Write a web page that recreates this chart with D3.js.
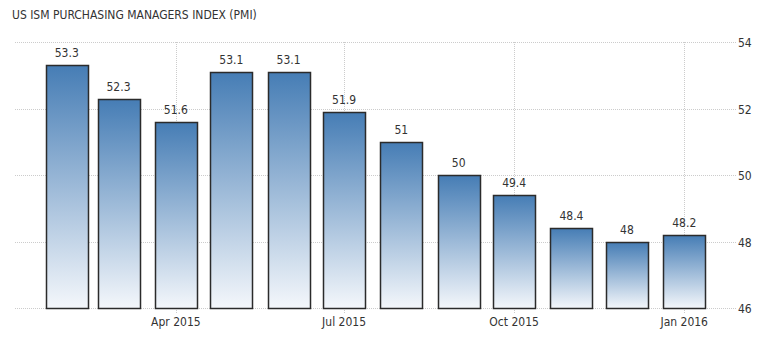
<!DOCTYPE html>
<html>
<head>
<meta charset="utf-8">
<script src="https://cdn.jsdelivr.net/npm/d3@7"></script>
<style>
  body { margin: 0; background: #fff; }
  text { font-family: "DejaVu Sans Condensed", "DejaVu Sans", sans-serif; fill: #333; }
</style>
</head>
<body>
<div id="chart"></div>
<script>
var months = ["2015-02","2015-03","2015-04","2015-05","2015-06","2015-07","2015-08","2015-09","2015-10","2015-11","2015-12","2016-01"];
var pmiValues = [53.3, 52.3, 51.6, 53.1, 53.1, 51.9, 51, 50, 49.4, 48.4, 48, 48.2];
var yTicks = [46, 48, 50, 52, 54];
var xTicks = ["2015-04","2015-07","2015-10","2016-01"];
var chartTitle = "US ISM PURCHASING MANAGERS INDEX (PMI)";

var width = 776, height = 337;
var plotLeft = 15, plotRight = 736, plotTop = 42, plotBottom = 308;
var parse = d3.timeParse("%Y-%m");

var data = months.map(function(m, i) { return { date: parse(m), value: pmiValues[i] }; });

var x = d3.scaleTime()
    .domain([new Date(2015, 0, 4), new Date(2016, 0, 29)])
    .range([plotLeft, plotRight]);
var y = d3.scaleLinear().domain([46, 54]).range([plotBottom, plotTop]);
var barWidth = 42;

var svg = d3.select("#chart")
    .append("svg")
    .attr("width", width)
    .attr("height", height);

var grad = svg.append("defs").append("linearGradient")
    .attr("id", "barGrad")
    .attr("x1", 0).attr("y1", 0).attr("x2", 0).attr("y2", 1);
grad.append("stop").attr("offset", "0%").attr("stop-color", "#467db5");
grad.append("stop").attr("offset", "100%").attr("stop-color", "#f4f7fb");

svg.append("text")
    .attr("x", 12)
    .attr("y", 19)
    .style("font-size", "12px")
    .text(chartTitle);

// horizontal grid
svg.selectAll(".hgrid")
    .data(yTicks)
    .enter()
    .append("line")
    .attr("class", "hgrid")
    .attr("x1", plotLeft)
    .attr("x2", plotRight)
    .attr("y1", function(d) { return Math.round(y(d)) + 0.5; })
    .attr("y2", function(d) { return Math.round(y(d)) + 0.5; })
    .attr("stroke", "#ccc")
    .attr("stroke-dasharray", "1,1");

// vertical grid at ticks
svg.selectAll(".vgrid")
    .data(xTicks)
    .enter()
    .append("line")
    .attr("class", "vgrid")
    .attr("x1", function(d) { return Math.round(x(parse(d))) + 0.5; })
    .attr("x2", function(d) { return Math.round(x(parse(d))) + 0.5; })
    .attr("y1", plotTop)
    .attr("y2", plotBottom + 5)
    .attr("stroke", "#ccc")
    .attr("stroke-dasharray", "1,1");

svg.selectAll(".bar")
    .data(data)
    .enter()
    .append("rect")
    .attr("class", "bar")
    .attr("x", function(d) { return Math.round(x(d.date) - barWidth / 2) + 0.5; })
    .attr("y", function(d) { return Math.round(y(d.value)) + 0.5; })
    .attr("width", barWidth)
    .attr("height", function(d) { return Math.round(y(46)) - Math.round(y(d.value)); })
    .attr("fill", "url(#barGrad)")
    .attr("stroke", "#2b2b2b")
    .attr("stroke-width", 1.5);

svg.selectAll(".val")
    .data(data)
    .enter()
    .append("text")
    .attr("class", "val")
    .attr("x", function(d) { return x(d.date); })
    .attr("y", function(d) { return y(d.value) - 8; })
    .attr("text-anchor", "middle")
    .style("font-size", "12px")
    .text(function(d) { return d.value; });

svg.selectAll(".ylab")
    .data(yTicks)
    .enter()
    .append("text")
    .attr("class", "ylab")
    .attr("x", 738)
    .attr("y", function(d) { return y(d) + 5; })
    .style("font-size", "12px")
    .text(function(d) { return d; });

var fmt = d3.timeFormat("%b %Y");
svg.selectAll(".xlab")
    .data(xTicks)
    .enter()
    .append("text")
    .attr("class", "xlab")
    .attr("x", function(d) { return x(parse(d)); })
    .attr("y", 326)
    .attr("text-anchor", "middle")
    .style("font-size", "12px")
    .text(function(d) { return fmt(parse(d)); });
</script>
</body>
</html>
